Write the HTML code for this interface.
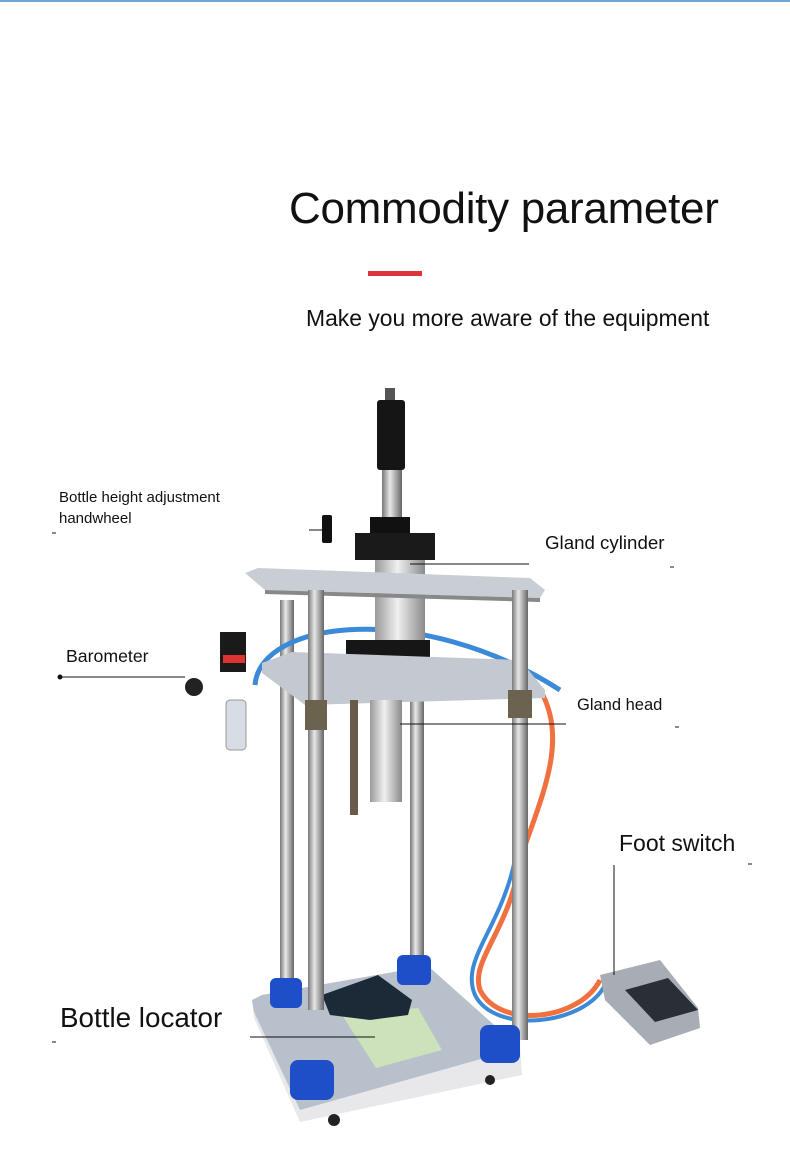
<!DOCTYPE html>
<html><head><meta charset="utf-8"><style>
html,body{margin:0;padding:0;background:#fff}
body{width:790px;height:1154px;position:relative;overflow:hidden;font-family:"Liberation Sans",sans-serif;color:#111}
.t{position:absolute;white-space:nowrap}
</style></head><body>
<div style="position:absolute;left:0;top:0;width:790px;height:2px;background:#6ea6d6"></div>
<div class="t" style="left:289px;top:184px;font-size:44px;letter-spacing:-0.3px">Commodity parameter</div>
<div style="position:absolute;left:368px;top:271px;width:54px;height:5px;background:#e0323a"></div>
<div class="t" style="left:306px;top:305px;font-size:22.9px">Make you more aware of the equipment</div>

<svg width="790" height="1154" style="position:absolute;left:0;top:0">
<defs>
<linearGradient id="rod" x1="0" x2="1"><stop offset="0" stop-color="#777"/><stop offset=".4" stop-color="#e8e8e8"/><stop offset="1" stop-color="#666"/></linearGradient>
<linearGradient id="cyl" x1="0" x2="1"><stop offset="0" stop-color="#9a9a9a"/><stop offset=".45" stop-color="#f0f0f0"/><stop offset="1" stop-color="#8a8a8a"/></linearGradient>
</defs>
<polygon points="252,1000 262,995 428,966 520,1048 522,1075 300,1122 254,1018" fill="#e8e8ea"/>
<polygon points="252,1000 262,995 428,966 520,1048 300,1110 254,1012" fill="#b8c0cc"/>
<circle cx="334" cy="1120" r="6" fill="#222"/><circle cx="490" cy="1080" r="5" fill="#222"/>
<polygon points="342,1015 418,1008 442,1050 376,1068" fill="#cfe6b8" opacity=".9"/>
<polygon points="322,995 378,975 412,1000 408,1015 370,1020 330,1015" fill="#1c2a38"/>
<rect x="280" y="600" width="14" height="390" fill="url(#rod)"/>
<rect x="410" y="600" width="14" height="370" fill="url(#rod)"/>
<path d="M520,860 C510,930 470,960 480,990 C500,1030 580,1020 600,980" stroke="#f07040" stroke-width="5" fill="none"/>
<path d="M515,860 C500,930 460,960 475,995 C495,1035 585,1025 605,985" stroke="#3b8ad8" stroke-width="4" fill="none"/>
<path d="M540,690 C570,740 540,800 520,860" stroke="#f07040" stroke-width="5" fill="none"/>
<path d="M255,685 C260,620 420,600 560,690" stroke="#3b8ad8" stroke-width="5" fill="none"/>
<polygon points="600,975 660,960 698,1008 700,1028 650,1045 605,1000" fill="#a8acb4"/>
<polygon points="625,990 668,978 698,1010 655,1022" fill="#2a2e36"/>
<rect x="385" y="388" width="10" height="12" fill="#555"/>
<rect x="377" y="400" width="28" height="70" rx="3" fill="#151515"/>
<rect x="382" y="470" width="20" height="50" fill="url(#rod)"/>
<rect x="370" y="517" width="40" height="18" fill="#111"/>
<rect x="355" y="533" width="80" height="27" fill="#1a1a1a"/>
<rect x="322" y="515" width="10" height="28" rx="2" fill="#111"/>
<rect x="375" y="560" width="50" height="80" fill="url(#cyl)"/>
<polygon points="245,573 258,568 530,578 545,590 540,598 265,590" fill="#c9cdd4"/>
<polygon points="265,590 540,598 540,602 265,594" fill="#888"/>
<rect x="346" y="640" width="84" height="28" fill="#161616"/>
<polygon points="262,663 292,652 520,660 545,690 545,698 305,705 262,673" fill="#c4c8d0"/>
<rect x="370" y="700" width="32" height="102" fill="url(#cyl)"/>
<rect x="350" y="700" width="8" height="115" fill="#6a5a4a"/>
<rect x="308" y="590" width="16" height="420" fill="url(#rod)"/>
<rect x="512" y="590" width="16" height="450" fill="url(#rod)"/>
<rect x="305" y="700" width="22" height="30" fill="#6b6250"/>
<rect x="508" y="690" width="24" height="28" fill="#6b6250"/>
<rect x="220" y="632" width="26" height="40" fill="#1a1a1a"/>
<rect x="223" y="655" width="22" height="8" fill="#d33"/>
<circle cx="194" cy="687" r="9" fill="#222"/>
<rect x="226" y="700" width="20" height="50" rx="4" fill="#d8dce4" stroke="#999"/>
<rect x="270" y="978" width="32" height="30" rx="6" fill="#1f4fc8"/>
<rect x="397" y="955" width="34" height="30" rx="6" fill="#1f4fc8"/>
<rect x="480" y="1025" width="40" height="38" rx="8" fill="#1f4fc8"/>
<rect x="290" y="1060" width="44" height="40" rx="8" fill="#1f4fc8"/>
<g stroke="#111" stroke-width="1">
<line x1="309" y1="530" x2="330" y2="530"/>
<line x1="410" y1="564" x2="529" y2="564"/>
<line x1="60" y1="677" x2="185" y2="677"/>
<line x1="400" y1="724" x2="566" y2="724"/>
<line x1="614" y1="865" x2="614" y2="975"/>
<line x1="250" y1="1037" x2="375" y2="1037"/>
<line x1="52" y1="533" x2="56" y2="533"/>
<line x1="670" y1="567" x2="674" y2="567"/>
<line x1="675" y1="727" x2="679" y2="727"/>
<line x1="748" y1="864" x2="752" y2="864"/>
<line x1="52" y1="1042" x2="56" y2="1042"/>
</g>
<circle cx="60" cy="677" r="2.5" fill="#111"/>
</svg>

<div class="t" style="left:59px;top:487px;font-size:15px;line-height:21px">Bottle height adjustment<br>handwheel</div>
<div class="t" style="left:545px;top:532px;font-size:18.7px">Gland cylinder</div>
<div class="t" style="left:66px;top:646px;font-size:17.7px">Barometer</div>
<div class="t" style="left:577px;top:696px;font-size:16.5px">Gland head</div>
<div class="t" style="left:619px;top:830px;font-size:23px">Foot switch</div>
<div class="t" style="left:60px;top:1002px;font-size:27.8px">Bottle locator</div>
</body></html>
